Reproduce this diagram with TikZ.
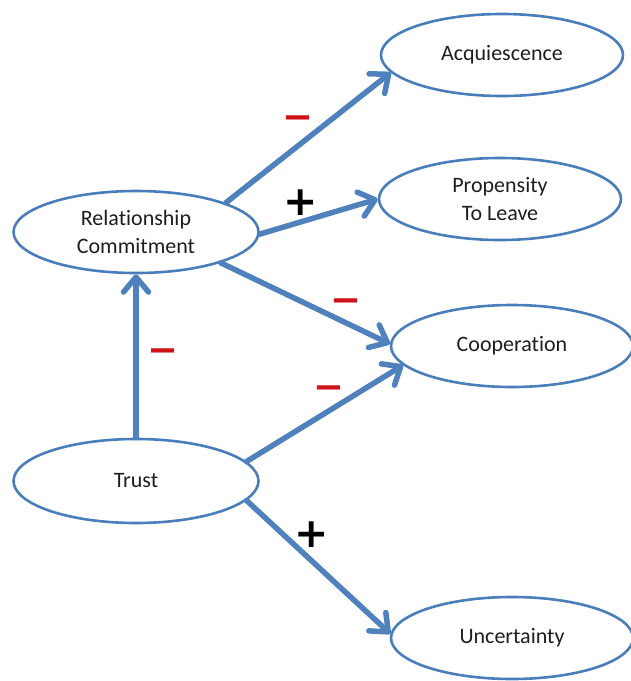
\documentclass[tikz,border=0pt]{standalone}
\usepackage{fontspec}
\setmainfont{Carlito}[Ligatures={NoCommon,NoContextual}]
\newfontfamily\signfont{DejaVu Sans}
\usetikzlibrary{shapes.geometric,arrows.meta}
\definecolor{linkblue}{RGB}{79,129,189}
\definecolor{rimblue}{RGB}{74,126,187}
\definecolor{signred}{RGB}{208,18,26}
\definecolor{labelgray}{RGB}{30,30,30}
\begin{document}
\begin{tikzpicture}[x=1pt,y=-1pt,
  concept/.style={ellipse, draw=rimblue, line width=2.6pt, fill=white,
    minimum width=242pt, minimum height=82pt, inner sep=0pt, align=center,
    text=labelgray, font=\fontsize{22}{27.5}\selectfont},
  link/.style={draw=linkblue, line width=5.5pt, line cap=round, line join=round,
    -{Straight Barb[length=15pt,width=25pt,round]}},
  negsign/.style={text=signred, font=\signfont\bfseries\fontsize{37}{37}\selectfont, inner sep=0pt},
  possign/.style={text=black, font=\signfont\bfseries\fontsize{41}{41}\selectfont, inner sep=0pt}]
\useasboundingbox (0,0) rectangle (631,681);

% concepts
\node[concept, minimum width=245pt] (rc)   at (136,232) {Relationship\\Commitment};
\node[concept, minimum width=245pt, minimum height=84pt] (trust) at (136,481) {Trust};
\node[concept] (acq)  at (502,55)  {Acquiescence};
\node[concept] (prop) at (500,199) {Propensity\\To Leave};
\node[concept] (coop) at (512,346) {Cooperation};
\node[concept] (unc)  at (512,638) {Uncertainty};

% effects
\draw[link] (rc.18)     -- (acq.189);
\draw[link] (rc.-1)     -- (prop.180);
\draw[link] (rc.-20)    -- (coop.179);
\draw[link] (trust.north) -- (rc.south);
\draw[link] (trust.10)  -- (coop.190);
\draw[link] (trust.-10) -- (unc.178);

% signs of the effects
\node[negsign] (s1) at (298,123) {−};
\node[possign] (s2) at (301,203) {+};
\node[negsign] (s3) at (346,306) {−};
\node[negsign] (s4) at (163,356) {−};
\node[negsign] (s5) at (329,393) {−};
\node[possign] (s6) at (312,535) {+};
\end{tikzpicture}
\end{document}
